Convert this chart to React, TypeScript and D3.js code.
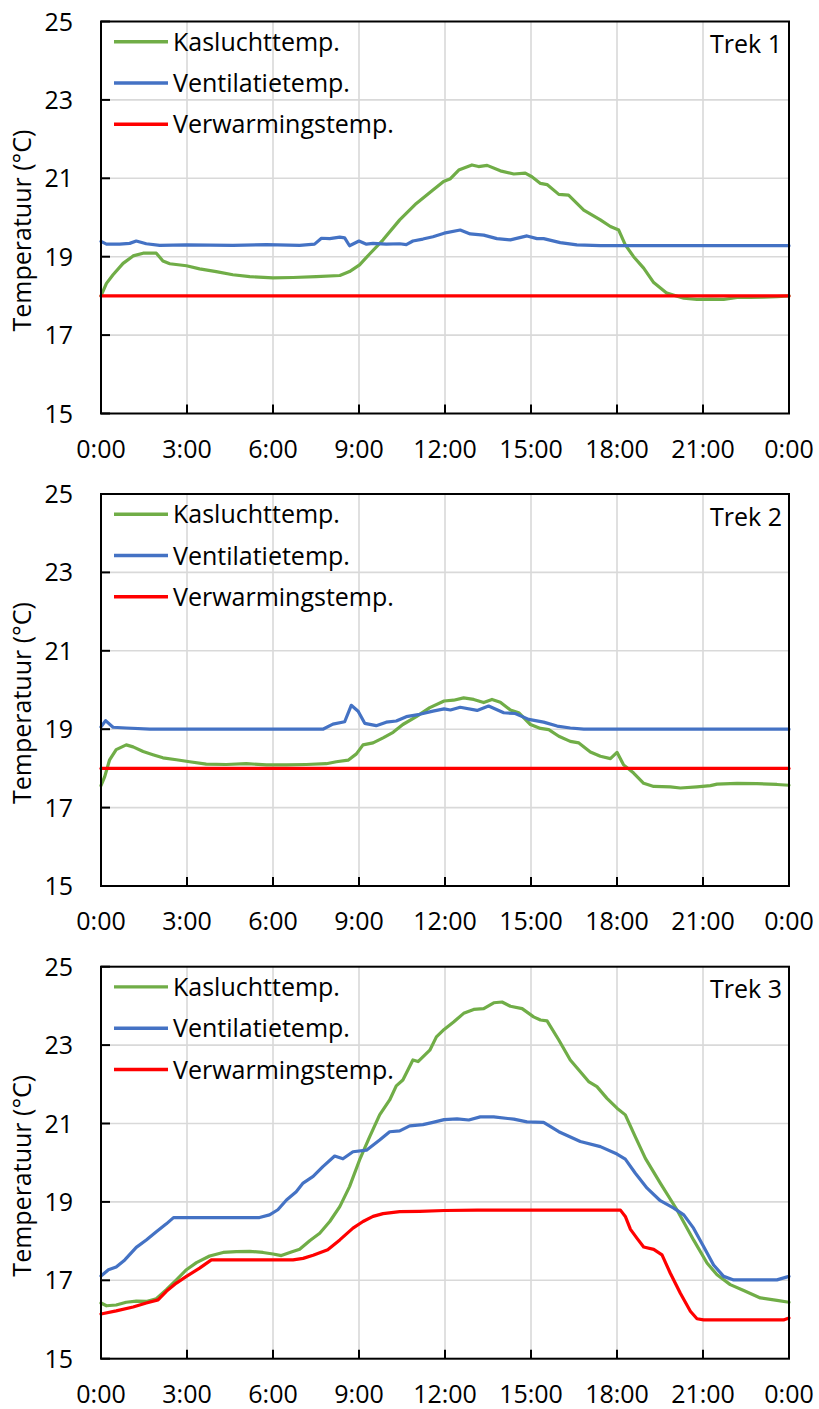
import React from "react";
import * as d3 from "d3";

type Pt = [number, number];

const xTickHours = [0, 3, 6, 9, 12, 15, 18, 21, 24];
const xTickLabels = ["0:00", "3:00", "6:00", "9:00", "12:00", "15:00", "18:00", "21:00", "0:00"];
const yTicks = [15, 17, 19, 21, 23, 25];
const seriesNames = ["Kasluchttemp.", "Ventilatietemp.", "Verwarmingstemp."];
const seriesColors = ["#70ad47", "#4472c4", "#ff0000"];
const panelTitles = ["Trek 1", "Trek 2", "Trek 3"];

// Trek 1
const trek1Kas: Pt[] = [
  [0, 18.0], [0.19, 18.32], [0.42, 18.54], [0.77, 18.83], [1.12, 19.02], [1.47, 19.09], [1.93, 19.09],
  [2.16, 18.89], [2.4, 18.82], [2.98, 18.77], [3.44, 18.69], [4.02, 18.62], [4.6, 18.54], [5.19, 18.49],
  [6.0, 18.46], [6.7, 18.47], [7.51, 18.49], [8.33, 18.52], [8.67, 18.62], [9.02, 18.79], [9.37, 19.07],
  [9.84, 19.43], [10.42, 19.94], [11.0, 20.36], [11.58, 20.7], [11.95, 20.92], [12.19, 20.99],
  [12.48, 21.21], [12.94, 21.34], [13.17, 21.3], [13.47, 21.33], [13.93, 21.19], [14.4, 21.11],
  [14.8, 21.13], [15.03, 21.04], [15.33, 20.87], [15.56, 20.84], [15.97, 20.59], [16.31, 20.57],
  [16.84, 20.19], [17.42, 19.94], [17.77, 19.77], [18.06, 19.68], [18.29, 19.3], [18.58, 19.0],
  [18.93, 18.71], [19.28, 18.34], [19.74, 18.07], [20.33, 17.94], [20.79, 17.91], [21.26, 17.92],
  [21.72, 17.91], [22.19, 17.96], [22.65, 17.96], [23.12, 17.97], [23.58, 17.98], [24, 18.0],
];
const trek1Vent: Pt[] = [
  [0, 19.39], [0.19, 19.32], [0.65, 19.32], [1.0, 19.34], [1.23, 19.4], [1.58, 19.33], [2.05, 19.29],
  [2.98, 19.3], [4.6, 19.29], [5.77, 19.31], [6.93, 19.29], [7.45, 19.32], [7.69, 19.47], [7.98, 19.46],
  [8.33, 19.5], [8.5, 19.48], [8.67, 19.28], [9.0, 19.4], [9.26, 19.32], [9.49, 19.34], [9.95, 19.32],
  [10.42, 19.33], [10.65, 19.31], [10.88, 19.4], [11.23, 19.45], [11.58, 19.51], [11.97, 19.6],
  [12.53, 19.68], [12.88, 19.58], [13.35, 19.55], [13.81, 19.46], [14.28, 19.43], [14.86, 19.53],
  [15.21, 19.46], [15.44, 19.46], [16.02, 19.36], [16.6, 19.3], [17.42, 19.28], [24, 19.28],
];
const trek1Verw: Pt[] = [[0, 18.0], [24, 18.0]];

// Trek 2
const trek2Kas: Pt[] = [
  [0, 17.56], [0.13, 17.79], [0.3, 18.22], [0.53, 18.48], [0.88, 18.6], [1.12, 18.55], [1.47, 18.43],
  [1.81, 18.35], [2.16, 18.27], [2.63, 18.22], [3.09, 18.17], [3.67, 18.11], [4.37, 18.1], [5.07, 18.12],
  [5.77, 18.09], [6.47, 18.09], [7.16, 18.1], [7.86, 18.12], [8.21, 18.17], [8.62, 18.21], [8.91, 18.37],
  [9.14, 18.6], [9.49, 18.65], [9.84, 18.78], [10.19, 18.92], [10.53, 19.12], [11.0, 19.32],
  [11.47, 19.55], [11.97, 19.72], [12.3, 19.74], [12.65, 19.8], [13.0, 19.76], [13.35, 19.68],
  [13.64, 19.76], [13.93, 19.69], [14.28, 19.49], [14.57, 19.42], [14.98, 19.12], [15.33, 19.02],
  [15.62, 18.99], [15.97, 18.82], [16.37, 18.69], [16.67, 18.65], [17.07, 18.42], [17.42, 18.31],
  [17.77, 18.25], [18.0, 18.41], [18.23, 18.09], [18.58, 17.88], [18.93, 17.62], [19.28, 17.54],
  [19.86, 17.53], [20.21, 17.5], [20.79, 17.53], [21.26, 17.56], [21.49, 17.6], [22.19, 17.62],
  [22.88, 17.61], [23.58, 17.59], [24, 17.57],
];
const trek2Vent: Pt[] = [
  [0, 19.06], [0.16, 19.22], [0.42, 19.05], [0.88, 19.03], [1.7, 19.0], [4.6, 19.0], [7.74, 19.0],
  [8.09, 19.13], [8.5, 19.19], [8.73, 19.61], [8.97, 19.46], [9.2, 19.15], [9.6, 19.09], [9.95, 19.18],
  [10.3, 19.21], [10.65, 19.32], [11.12, 19.38], [11.58, 19.46], [11.97, 19.52], [12.19, 19.49],
  [12.53, 19.56], [13.12, 19.48], [13.52, 19.59], [14.05, 19.42], [14.45, 19.4], [14.92, 19.25],
  [15.44, 19.18], [15.91, 19.08], [16.37, 19.03], [16.84, 19.0], [24, 19.0],
];
const trek2Verw: Pt[] = [[0, 18.0], [24, 18.0]];

// Trek 3
const trek3Kas: Pt[] = [
  [0, 16.42], [0.19, 16.35], [0.53, 16.37], [0.88, 16.44], [1.23, 16.47], [1.58, 16.46], [1.93, 16.53],
  [2.28, 16.76], [2.63, 17.01], [2.98, 17.27], [3.33, 17.45], [3.79, 17.62], [4.26, 17.71], [4.72, 17.73],
  [5.19, 17.74], [5.65, 17.71], [6.0, 17.67], [6.29, 17.63], [6.64, 17.72], [6.93, 17.79], [7.28, 18.01],
  [7.63, 18.2], [7.98, 18.5], [8.33, 18.88], [8.67, 19.39], [9.02, 20.07], [9.37, 20.66], [9.72, 21.22],
  [10.07, 21.6], [10.3, 21.96], [10.53, 22.11], [10.88, 22.62], [11.06, 22.58], [11.47, 22.87],
  [11.7, 23.21], [11.97, 23.4], [12.3, 23.59], [12.65, 23.81], [13.0, 23.91], [13.35, 23.93],
  [13.7, 24.08], [13.99, 24.1], [14.28, 23.99], [14.69, 23.93], [15.09, 23.72], [15.33, 23.64],
  [15.56, 23.62], [15.97, 23.13], [16.37, 22.62], [16.72, 22.32], [17.01, 22.07], [17.3, 21.94],
  [17.65, 21.64], [18.0, 21.39], [18.29, 21.22], [18.64, 20.66], [18.99, 20.11], [19.51, 19.48],
  [20.09, 18.8], [20.67, 18.03], [21.14, 17.44], [21.49, 17.14], [21.95, 16.89], [22.42, 16.74],
  [23.0, 16.55], [23.58, 16.49], [24, 16.44],
];
const trek3Vent: Pt[] = [
  [0, 17.11], [0.26, 17.27], [0.53, 17.34], [0.83, 17.52], [1.23, 17.84], [1.58, 18.03], [1.93, 18.24],
  [2.28, 18.44], [2.53, 18.6], [3.44, 18.6], [5.53, 18.6], [5.88, 18.67], [6.17, 18.8], [6.47, 19.05],
  [6.81, 19.26], [7.05, 19.48], [7.4, 19.65], [7.74, 19.9], [8.15, 20.17], [8.44, 20.1], [8.79, 20.28],
  [9.26, 20.32], [9.72, 20.58], [10.07, 20.79], [10.42, 20.81], [10.77, 20.94], [11.23, 20.97],
  [11.58, 21.03], [11.97, 21.1], [12.42, 21.12], [12.83, 21.09], [13.23, 21.17], [13.7, 21.17],
  [14.4, 21.11], [14.86, 21.04], [15.44, 21.03], [15.97, 20.79], [16.72, 20.54], [17.42, 20.41],
  [18.0, 20.22], [18.29, 20.09], [18.64, 19.73], [19.05, 19.35], [19.51, 19.03], [19.98, 18.84],
  [20.33, 18.67], [20.67, 18.33], [21.02, 17.86], [21.37, 17.39], [21.72, 17.1], [22.07, 17.01],
  [23.0, 17.01], [23.58, 17.01], [24, 17.1],
];
const trek3Verw: Pt[] = [
  [0, 16.14], [0.53, 16.22], [1.12, 16.32], [1.58, 16.42], [1.99, 16.5], [2.28, 16.72], [2.63, 16.93],
  [2.98, 17.1], [3.44, 17.31], [3.85, 17.52], [4.6, 17.52], [6.7, 17.52], [7.05, 17.56], [7.4, 17.64],
  [7.91, 17.78], [8.33, 18.03], [8.79, 18.33], [9.14, 18.5], [9.49, 18.63], [9.84, 18.7], [10.42, 18.75],
  [11.12, 18.76], [11.97, 18.78], [13.12, 18.79], [18.12, 18.79], [18.29, 18.63], [18.47, 18.3],
  [18.7, 18.07], [18.93, 17.85], [19.28, 17.79], [19.57, 17.65], [19.86, 17.18], [20.21, 16.67],
  [20.56, 16.21], [20.79, 16.02], [21.02, 15.99], [23.81, 15.99], [24, 16.04],
];

const panels: Pt[][][] = [
  [trek1Kas, trek1Vent, trek1Verw],
  [trek2Kas, trek2Vent, trek2Verw],
  [trek3Kas, trek3Vent, trek3Verw],
];
const panelTops = [21.5, 494, 966.7];

const FONT = "'Open Sans', 'Noto Sans', sans-serif";
const LEFT = 101;
const RIGHT = 789;
const PH = 392;

function Panel({ top, series, title }: { top: number; series: Pt[][]; title: string }) {
  const x = d3.scaleLinear().domain([0, 24]).range([LEFT, RIGHT]);
  const y = d3.scaleLinear().domain([15, 25]).range([top + PH, top]);
  const line = d3
    .line<Pt>()
    .x((d) => x(d[0]))
    .y((d) => y(d[1]))
    .curve(d3.curveLinear);
  const bottom = top + PH;
  return (
    <g>
      {xTickHours.slice(1, -1).map((h) => (
        <line key={"gx" + h} x1={x(h)} x2={x(h)} y1={top} y2={bottom} stroke="#d9d9d9" strokeWidth={1.6} />
      ))}
      {yTicks.slice(1, -1).map((v) => (
        <line key={"gy" + v} x1={LEFT} x2={RIGHT} y1={y(v)} y2={y(v)} stroke="#d9d9d9" strokeWidth={1.6} />
      ))}
      {series.map((s, i) => (
        <path
          key={"s" + i}
          d={line(s) || ""}
          fill="none"
          stroke={seriesColors[i]}
          strokeWidth={3.2}
          strokeLinejoin="round"
          strokeLinecap="round"
        />
      ))}
      <rect x={LEFT} y={top} width={RIGHT - LEFT} height={PH} fill="none" stroke="#000" strokeWidth={2} />
      {xTickHours.map((h, i) => (
        <line key={"tx" + i} x1={x(h)} x2={x(h)} y1={bottom} y2={bottom - 9} stroke="#000" strokeWidth={2} />
      ))}
      {yTicks.map((v) => (
        <line key={"ty" + v} x1={LEFT} x2={LEFT + 9} y1={y(v)} y2={y(v)} stroke="#000" strokeWidth={2} />
      ))}
      {yTicks.map((v) => (
        <text key={"ly" + v} x={73} y={y(v) + 9} textAnchor="end" fontSize={25} fontFamily={FONT} fill="#000">
          {v}
        </text>
      ))}
      {xTickHours.map((h, i) => (
        <text key={"lx" + i} x={x(h)} y={bottom + 44} textAnchor="middle" fontSize={25} fontFamily={FONT} fill="#000">
          {xTickLabels[i]}
        </text>
      ))}
      <text
        transform={`translate(31,${top + PH / 2 + 13}) rotate(-90)`}
        textAnchor="middle"
        fontSize={25}
        fontFamily={FONT}
        fill="#000"
      >
        Temperatuur (°C)
      </text>
      {seriesNames.map((n, i) => {
        const ly = top + 20.2 + i * 41.3;
        return (
          <g key={"lg" + i}>
            <line x1={114} x2={168} y1={ly} y2={ly} stroke={seriesColors[i]} strokeWidth={3.4} />
            <text x={173} y={ly + 9} fontSize={25} fontFamily={FONT} fill="#000">
              {n}
            </text>
          </g>
        );
      })}
      <text x={782} y={top + 31.5} textAnchor="end" fontSize={25} fontFamily={FONT} fill="#000">
        {title}
      </text>
    </g>
  );
}

export default function App() {
  return (
    <svg
      width={819}
      height={1409}
      viewBox="0 0 819 1409"
      style={{ position: "absolute", left: 0, top: 0, background: "#fff" }}
    >
      <rect x={0} y={0} width={819} height={1409} fill="#fff" />
      {panels.map((series, i) => (
        <Panel key={i} top={panelTops[i]} series={series} title={panelTitles[i]} />
      ))}
    </svg>
  );
}
